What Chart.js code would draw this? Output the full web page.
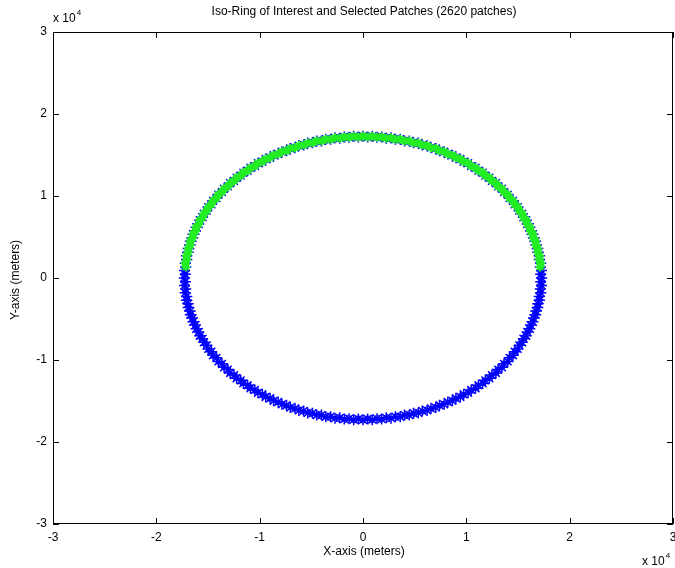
<!DOCTYPE html>
<html>
<head>
<meta charset="utf-8">
<script src="https://cdn.jsdelivr.net/npm/chart.js@4"></script>
<style>
  html, body { margin: 0; padding: 0; background: #fff; }
  canvas { display: block; }
</style>
</head>
<body>
<canvas id="ringChart" width="675" height="568"></canvas>
<script>
// iso-ring patches, outer row every 3 degrees from 0 (meters)
const ringX = [17300,17280,17210,17090,16920,16710,16450,16150,15800,15410,14980,14510,14000,13440,12860,12230,11580,10890,10170,9420,8650,7850,7040,6200,5350,4480,3600,2710,1810,900,0,
  -900,-1810,-2710,-3600,-4480,-5350,-6200,-7040,-7850,-8650,-9420,-10170,-10890,-11580,-12230,-12860,-13440,-14000,-14510,-14980,-15410,-15800,-16150,-16450,-16710,-16920,-17090,-17210,-17280,-17300,
  -17280,-17210,-17090,-16920,-16710,-16450,-16150,-15800,-15410,-14980,-14510,-14000,-13440,-12860,-12230,-11580,-10890,-10170,-9420,-8650,-7850,-7040,-6200,-5350,-4480,-3600,-2710,-1810,-900,0,
  900,1810,2710,3600,4480,5350,6200,7040,7850,8650,9420,10170,10890,11580,12230,12860,13440,14000,14510,14980,15410,15800,16150,16450,16710,16920,17090,17210,17280];
const ringY = [0,900,1810,2710,3600,4480,5350,6200,7040,7850,8650,9420,10170,10890,11580,12230,12860,13440,14000,14510,14980,15410,15800,16150,16450,16710,16920,17090,17210,17280,17300,
  17280,17210,17090,16920,16710,16450,16150,15800,15410,14980,14510,14000,13440,12860,12230,11580,10890,10170,9420,8650,7850,7040,6200,5350,4480,3600,2710,1810,900,0,
  -900,-1810,-2710,-3600,-4480,-5350,-6200,-7040,-7850,-8650,-9420,-10170,-10890,-11580,-12230,-12860,-13440,-14000,-14510,-14980,-15410,-15800,-16150,-16450,-16710,-16920,-17090,-17210,-17280,-17300,
  -17280,-17210,-17090,-16920,-16710,-16450,-16150,-15800,-15410,-14980,-14510,-14000,-13440,-12860,-12230,-11580,-10890,-10170,-9420,-8650,-7850,-7040,-6200,-5350,-4480,-3600,-2710,-1810,-900];

// inner row, staggered half a step (from 1.5 degrees)
const ringX2 = [17190,17150,17050,16910,16720,16490,16210,15890,15520,15120,14670,14180,13650,13080,12480,11840,11170,10470,9740,8990,8210,7400,6580,5740,4890,4020,3130,2250,1350,450,
  -450,-1350,-2250,-3130,-4020,-4890,-5740,-6580,-7400,-8210,-8990,-9740,-10470,-11170,-11840,-12480,-13080,-13650,-14180,-14670,-15120,-15520,-15890,-16210,-16490,-16720,-16910,-17050,-17150,-17190,
  -17190,-17150,-17050,-16910,-16720,-16490,-16210,-15890,-15520,-15120,-14670,-14180,-13650,-13080,-12480,-11840,-11170,-10470,-9740,-8990,-8210,-7400,-6580,-5740,-4890,-4020,-3130,-2250,-1350,-450,
  450,1350,2250,3130,4020,4890,5740,6580,7400,8210,8990,9740,10470,11170,11840,12480,13080,13650,14180,14670,15120,15520,15890,16210,16490,16720,16910,17050,17150,17190];
const ringY2 = [450,1350,2250,3130,4020,4890,5740,6580,7400,8210,8990,9740,10470,11170,11840,12480,13080,13650,14180,14670,15120,15520,15890,16210,16490,16720,16910,17050,17150,17190,
  17190,17150,17050,16910,16720,16490,16210,15890,15520,15120,14670,14180,13650,13080,12480,11840,11170,10470,9740,8990,8210,7400,6580,5740,4890,4020,3130,2250,1350,450,
  -450,-1350,-2250,-3130,-4020,-4890,-5740,-6580,-7400,-8210,-8990,-9740,-10470,-11170,-11840,-12480,-13080,-13650,-14180,-14670,-15120,-15520,-15890,-16210,-16490,-16720,-16910,-17050,-17150,-17190,
  -17190,-17150,-17050,-16910,-16720,-16490,-16210,-15890,-15520,-15120,-14670,-14180,-13650,-13080,-12480,-11840,-11170,-10470,-9740,-8990,-8210,-7400,-6580,-5740,-4890,-4020,-3130,-2250,-1350,-450];

// selected patches on the upper arc, same two rows
const selX = [17210,17090,16920,16710,16450,16150,15800,15410,14980,14510,14000,13440,12860,12230,11580,10890,10170,9420,8650,7850,7040,6200,5350,4480,3600,2710,1810,900,0,
  -900,-1810,-2710,-3600,-4480,-5350,-6200,-7040,-7850,-8650,-9420,-10170,-10890,-11580,-12230,-12860,-13440,-14000,-14510,-14980,-15410,-15800,-16150,-16450,-16710,-16920,-17090,-17210];
const selY = [1810,2710,3600,4480,5350,6200,7040,7850,8650,9420,10170,10890,11580,12230,12860,13440,14000,14510,14980,15410,15800,16150,16450,16710,16920,17090,17210,17280,17300,
  17280,17210,17090,16920,16710,16450,16150,15800,15410,14980,14510,14000,13440,12860,12230,11580,10890,10170,9420,8650,7850,7040,6200,5350,4480,3600,2710,1810];
const selX2 = [17150,17050,16910,16720,16490,16210,15890,15520,15120,14670,14180,13650,13080,12480,11840,11170,10470,9740,8990,8210,7400,6580,5740,4890,4020,3130,2250,1350,450,
  -450,-1350,-2250,-3130,-4020,-4890,-5740,-6580,-7400,-8210,-8990,-9740,-10470,-11170,-11840,-12480,-13080,-13650,-14180,-14670,-15120,-15520,-15890,-16210,-16490,-16720,-16910,-17050,-17150];
const selY2 = [1350,2250,3130,4020,4890,5740,6580,7400,8210,8990,9740,10470,11170,11840,12480,13080,13650,14180,14670,15120,15520,15890,16210,16490,16720,16910,17050,17150,17190,
  17190,17150,17050,16910,16720,16490,16210,15890,15520,15120,14670,14180,13650,13080,12480,11840,11170,10470,9740,8990,8210,7400,6580,5740,4890,4020,3130,2250,1350];

const tickVals = [-30000, -20000, -10000, 0, 10000, 20000, 30000];

const toPoints = (xs, ys) => xs.map((x, i) => ({ x: x, y: ys[i] }));
const FONT = '"Liberation Sans", Arial, sans-serif';

// box frame, inward ticks and the text around the axes
const frameAndLabels = {
  id: 'frameAndLabels',
  afterDraw(chart) {
    const ctx = chart.ctx;
    const a = chart.chartArea;
    const xs = chart.scales.x, ys = chart.scales.y;
    ctx.save();
    ctx.strokeStyle = '#000';
    ctx.lineWidth = 1;
    ctx.strokeRect(Math.round(a.left) + 0.5, Math.round(a.top) + 0.5,
      Math.round(a.right - a.left) - 1, Math.round(a.bottom - a.top) - 1);
    ctx.beginPath();
    tickVals.forEach(v => {
      const px = Math.round(xs.getPixelForValue(v)) + 0.5;
      ctx.moveTo(px, a.bottom); ctx.lineTo(px, a.bottom - 6);
      ctx.moveTo(px, a.top); ctx.lineTo(px, a.top + 6);
      const py = Math.round(ys.getPixelForValue(v)) + 0.5;
      ctx.moveTo(a.left, py); ctx.lineTo(a.left + 6, py);
      ctx.moveTo(a.right, py); ctx.lineTo(a.right - 6, py);
    });
    ctx.stroke();

    ctx.fillStyle = '#000';
    ctx.font = '12px ' + FONT;
    ctx.textAlign = 'center';
    ctx.textBaseline = 'middle';
    ctx.fillText('Iso-Ring of Interest and Selected Patches (2620 patches)', 364, 12);
    ctx.fillText('X-axis (meters)', 364, 552);
    ctx.save();
    ctx.translate(16, 280);
    ctx.rotate(-Math.PI / 2);
    ctx.fillText('Y-axis (meters)', 0, 0);
    ctx.restore();

    // exponent labels
    const expo = (x, y) => {
      ctx.textAlign = 'left';
      ctx.font = '12px ' + FONT;
      ctx.fillText('x 10', x, y);
      const w = ctx.measureText('x 10').width;
      ctx.font = '8px ' + FONT;
      ctx.fillText('4', x + w + 1, y - 6);
    };
    expo(53, 19);
    expo(642, 562);
    ctx.restore();
  }
};

const ctx = document.getElementById('ringChart').getContext('2d');

const starSet = (label, xs, ys, color, r, bw) => ({
  label: label,
  data: toPoints(xs, ys),
  pointStyle: 'star',
  pointRadius: r,
  pointBorderWidth: bw,
  borderColor: color,
  backgroundColor: color
});

new Chart(ctx, {
  type: 'scatter',
  data: {
    datasets: [
      starSet('Selected patches', selX, selY, '#22ee22', 4.5, 2),
      starSet('Selected patches', selX2, selY2, '#22ee22', 4.5, 2),
      starSet('Iso-ring', ringX, ringY, '#0000ff', 5.5, 1.5),
      starSet('Iso-ring', ringX2, ringY2, '#0000ff', 5.5, 1.5)
    ]
  },
  options: {
    responsive: false,
    animation: false,
    layout: { autoPadding: false, padding: { top: 32, right: 2, left: 0, bottom: 0 } },
    plugins: {
      legend: { display: false },
      tooltip: { enabled: false }
    },
    scales: {
      x: {
        type: 'linear',
        min: -30000,
        max: 30000,
        afterFit: s => { s.height = 44; s.paddingLeft = 0; s.paddingRight = 0; },
        afterBuildTicks: s => { s.ticks = tickVals.map(v => ({ value: v })); },
        grid: { display: false, drawTicks: false },
        border: { display: false },
        ticks: {
          padding: 6,
          color: '#000',
          font: { family: FONT, size: 12 },
          maxRotation: 0,
          callback: v => String(v / 10000)
        }
      },
      y: {
        type: 'linear',
        min: -30000,
        max: 30000,
        afterFit: s => { s.width = 53; s.paddingTop = 0; s.paddingBottom = 0; },
        afterBuildTicks: s => { s.ticks = tickVals.map(v => ({ value: v })); },
        grid: { display: false, drawTicks: false },
        border: { display: false },
        ticks: {
          padding: 6,
          color: '#000',
          font: { family: FONT, size: 12 },
          callback: v => String(v / 10000)
        }
      }
    }
  },
  plugins: [frameAndLabels]
});
</script>
</body>
</html>
